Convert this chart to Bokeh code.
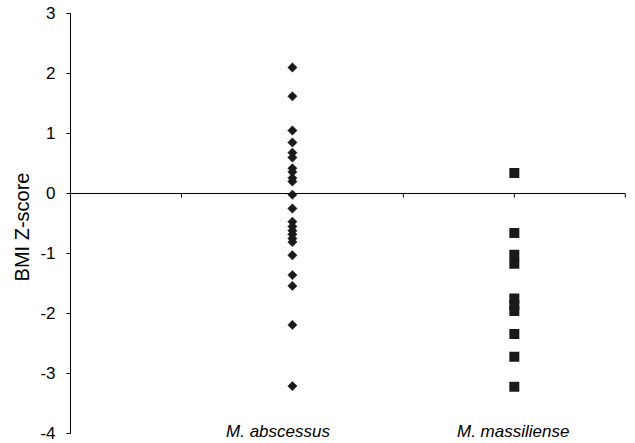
from bokeh.plotting import figure
from bokeh.models import FixedTicker, ColumnDataSource
from bokeh.core.properties import value
from bokeh.embed import file_html
from bokeh.resources import INLINE
import math

# ---- data ----
groups = ["M. abscessus", "M. massiliense"]
group_x = [2, 4]
abscessus_z = [2.10, 1.62, 1.05, 0.85, 0.68, 0.60, 0.42, 0.36, 0.26, 0.20,
               -0.02, -0.25, -0.47, -0.55, -0.62, -0.68, -0.75, -0.81,
               -1.03, -1.36, -1.54, -2.19, -3.21]
massiliense_z = [0.34, -0.66, -1.02, -1.17, -1.75, -1.86, -1.96, -2.34, -2.72, -3.22]
y_ticks = [-4, -3, -2, -1, 0, 1, 2, 3]
x_ticks = [1, 2, 3, 4, 5]
label_x = [1.87, 3.99]

FONT = "Liberation Sans"
INK = "#1a1a1a"

p = figure(width=635, height=443, output_backend="svg", toolbar_location=None,
           x_range=(0, 5.02), y_range=(-4.167, 3.05), x_axis_location=None,
           min_border_left=70, min_border_right=8, min_border_top=10, min_border_bottom=0)
p.outline_line_color = None
p.grid.visible = False
p.background_fill_color = "white"
p.border_fill_color = "white"

ax = p.yaxis[0]
ax.ticker = FixedTicker(ticks=y_ticks)
ax.bounds = (min(y_ticks), max(y_ticks))
ax.major_label_overrides = {t: str(t) for t in y_ticks}
ax.axis_line_color = "black"
ax.major_tick_line_color = "black"
ax.major_tick_out = 4
ax.major_tick_in = 0
ax.minor_tick_line_color = None
ax.major_label_standoff = 11
ax.major_label_text_font = FONT
ax.major_label_text_font_size = "17px"
ax.major_label_text_color = "black"
ax.axis_label = "BMI Z-score"
ax.axis_label_text_font = FONT
ax.axis_label_text_font_size = "20px"
ax.axis_label_text_font_style = "normal"
ax.axis_label_text_color = "black"
ax.axis_label_standoff = 4

# zero line acting as category axis
p.segment(x0=[0], y0=[0], x1=[max(x_ticks)], y1=[0], line_color="black", line_width=1)
p.segment(x0=x_ticks, y0=[0] * len(x_ticks), x1=x_ticks, y1=[-0.067] * len(x_ticks),
          line_color="black", line_width=1)

# points
p.scatter(x=[group_x[0]] * len(abscessus_z), y=abscessus_z, marker="square",
          angle=math.pi / 4, size=6.6, fill_color=INK, line_color=INK, line_width=0.5)
p.scatter(x=[group_x[1]] * len(massiliense_z), y=massiliense_z, marker="square",
          size=10, fill_color=INK, line_color=None)

# category labels
src = ColumnDataSource(dict(x=label_x, y=[-3.97] * 2, t=groups))
p.text(x="x", y="y", text="t", source=src, text_align="center",
       text_baseline="middle", text_font=value(FONT), text_font_size="17px",
       text_font_style="italic", text_color="black")

open("out.html", "w").write(file_html(p, INLINE))
